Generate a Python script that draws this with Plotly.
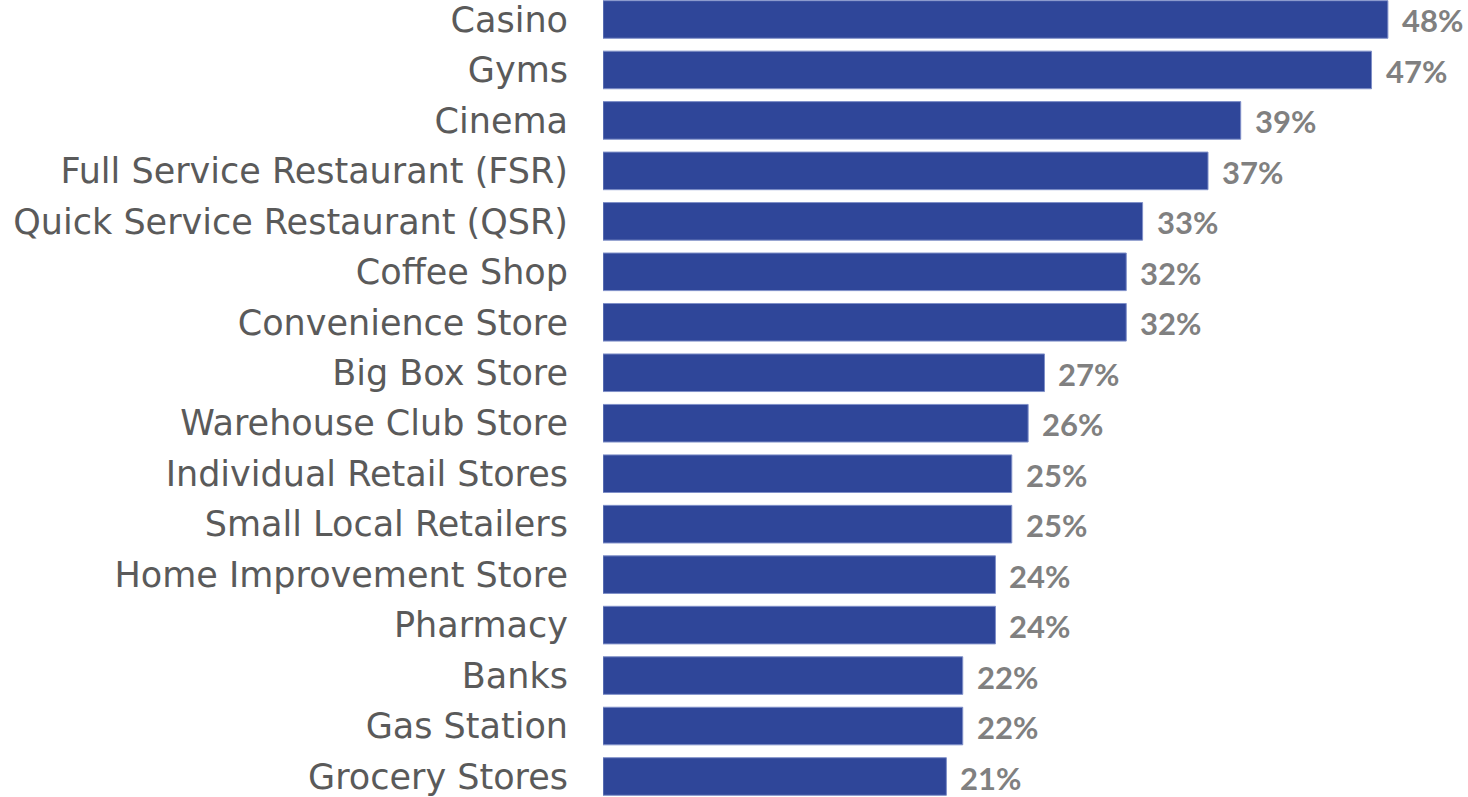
import plotly.graph_objects as go

categories = ["Casino", "Gyms", "Cinema", "Full Service Restaurant (FSR)",
              "Quick Service Restaurant (QSR)", "Coffee Shop", "Convenience Store",
              "Big Box Store", "Warehouse Club Store", "Individual Retail Stores",
              "Small Local Retailers", "Home Improvement Store", "Pharmacy",
              "Banks", "Gas Station", "Grocery Stores"]
values = [48, 47, 39, 37, 33, 32, 32, 27, 26, 25, 25, 24, 24, 22, 22, 21]
value_labels = [f"{v}%" for v in values]

positions = list(range(len(categories)))

fig = go.Figure()
fig.add_trace(go.Bar(
    x=values, y=positions, orientation="h",
    marker=dict(color="#2F4699", line=dict(color="#7F8FC8", width=1)),
    width=0.745, hoverinfo="skip",
))

for p, v, t in zip(positions, values, value_labels):
    fig.add_annotation(x=v, y=p, text=t, showarrow=False, xanchor="left",
                       xshift=12, yshift=-1,
                       font=dict(family="Lato", size=31, color="#808080", weight="bold"))

fig.update_layout(
    width=1468, height=797,
    margin=dict(l=603, r=0, t=0, b=0),
    plot_bgcolor="white", paper_bgcolor="white",
    showlegend=False,
    xaxis=dict(range=[0, 52.9], visible=False, fixedrange=True),
    yaxis=dict(range=[15.406, -0.386], tickmode="array", tickvals=positions,
               ticktext=categories, showgrid=False, zeroline=False,
               showline=False, ticks="", ticklabelstandoff=34,
               ticklabeloverflow="allow",
               tickfont=dict(family="DejaVu Sans", size=35, color="#5A5A5A")),
)

fig.write_html("out.html", config={"displayModeBar": False},
               post_script="document.body.style.margin='0';")
